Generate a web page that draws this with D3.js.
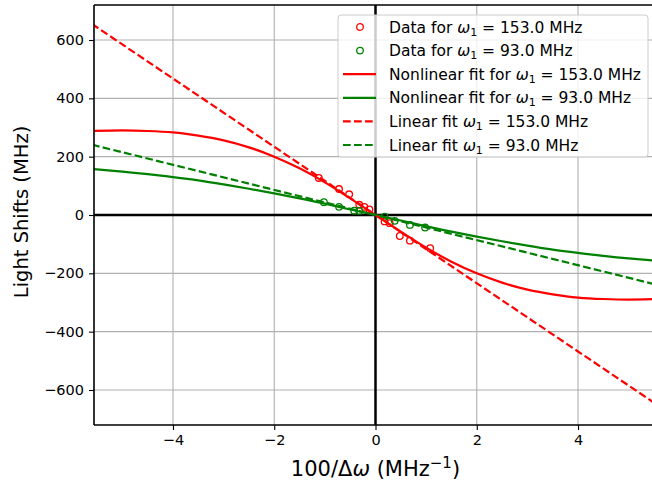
<!DOCTYPE html>
<html>
<head>
<meta charset="utf-8">
<script src="https://cdn.jsdelivr.net/npm/d3@7"></script>
<style>
  body { margin: 0; background: #fff; }
  svg { font-family: "DejaVu Sans", sans-serif; display: block; }
</style>
</head>
<body>
<script>
// measured data, omega_1 = 153 MHz (red) and 93 MHz (green)
var dataX153 = [-1.12, -0.72, -0.52, -0.32, -0.22, -0.12, 0.18, 0.28, 0.48, 0.68, 1.08];
var dataY153 = [127, 89, 71, 35, 28, 19, -22, -28, -72, -88, -114];
var dataX93  = [-1.02, -0.72, -0.42, -0.32, 0.18, 0.38, 0.68, 0.98];
var dataY93  = [44, 28, 15, 14, -6, -20, -34, -43];

// fitted curves
var fitX    = [-5.6, -5, -4.5, -4, -3.5, -3, -2.5, -2, -1.5, -1, -0.5, 0, 0.5, 1, 1.5, 2, 2.5, 3, 3.5, 4, 4.5, 5, 5.6];
var nlFit153 = [288, 290, 288, 283, 272, 256, 232, 200, 160, 112, 57, 0, -57, -112, -160, -200, -232, -256, -272, -283, -288, -290, -288];
var nlFit93  = [158, 149, 140, 130, 119, 105, 90, 74, 57, 39, 19, 0, -19, -39, -57, -74, -90, -105, -119, -130, -140, -149, -158];
var linX     = [-5.6, 5.6];
var linFit153 = [655, -655];
var linFit93  = [241, -241];

var xTicks = [-4, -2, 0, 2, 4];
var yTicks = [-600, -400, -200, 0, 200, 400, 600];

const W = 652, H = 483;
const M = { left: 94, top: 5, right: 657, bottom: 425 };

var svg = d3.select('body').append('svg')
  .attr('width', W)
  .attr('height', H);

var x = d3.scaleLinear().domain([-5.56, 5.56]).range([M.left, M.right]);
var y = d3.scaleLinear().domain([-720, 720]).range([M.bottom, M.top]);

svg.append('defs').append('clipPath').attr('id', 'plot-clip')
  .append('rect')
    .attr('x', M.left).attr('y', M.top)
    .attr('width', M.right - M.left).attr('height', M.bottom - M.top);

// grid
var grid = svg.append('g').attr('clip-path', 'url(#plot-clip)');
grid.selectAll('.gx').data(xTicks).enter().append('line')
  .attr('x1', d => x(d)).attr('x2', d => x(d))
  .attr('y1', M.top).attr('y2', M.bottom)
  .attr('stroke', '#b0b0b0').attr('stroke-width', 1.1);
grid.selectAll('.gy').data(yTicks).enter().append('line')
  .attr('x1', M.left).attr('x2', M.right)
  .attr('y1', d => y(d)).attr('y2', d => y(d))
  .attr('stroke', '#b0b0b0').attr('stroke-width', 1.1);

var plot = svg.append('g').attr('clip-path', 'url(#plot-clip)');

// zero lines
plot.append('line')
  .attr('x1', x(0)).attr('x2', x(0)).attr('y1', M.top).attr('y2', M.bottom)
  .attr('stroke', '#000').attr('stroke-width', 2.5);
plot.append('line')
  .attr('x1', M.left).attr('x2', M.right).attr('y1', y(0)).attr('y2', y(0))
  .attr('stroke', '#000').attr('stroke-width', 2.5);

var curve = d3.line()
  .x(d => x(d[0]))
  .y(d => y(d[1]))
  .curve(d3.curveNatural);

function drawLine(xs, ys, color, dashed) {
  plot.append('path')
    .datum(d3.zip(xs, ys))
    .attr('d', curve)
    .attr('fill', 'none')
    .attr('stroke', color)
    .attr('stroke-width', 2.2)
    .attr('stroke-dasharray', dashed ? '7.7,3.3' : null);
}

function drawPoints(xs, ys, color) {
  plot.append('g').selectAll('circle')
    .data(d3.zip(xs, ys))
    .enter().append('circle')
      .attr('cx', d => x(d[0]))
      .attr('cy', d => y(d[1]))
      .attr('r', 3.3)
      .attr('fill', 'none')
      .attr('stroke', color)
      .attr('stroke-width', 1.3);
}

drawPoints(dataX153, dataY153, 'red');
drawPoints(dataX93, dataY93, 'green');
drawLine(fitX, nlFit153, 'red', false);
drawLine(fitX, nlFit93, 'green', false);
drawLine(linX, linFit153, 'red', true);
drawLine(linX, linFit93, 'green', true);

// axes
var fmt = d => d3.format('d')(d).replace('-', '\u2212');
var xAxis = svg.append('g')
  .attr('transform', 'translate(0,' + M.bottom + ')')
  .call(d3.axisBottom(x).tickValues(xTicks).tickFormat(fmt).tickSizeOuter(0).tickSize(5).tickPadding(5));
var yAxis = svg.append('g')
  .attr('transform', 'translate(' + M.left + ',0)')
  .call(d3.axisLeft(y).tickValues(yTicks).tickFormat(fmt).tickSizeOuter(0).tickSize(5).tickPadding(5));
[xAxis, yAxis].forEach(function (a) {
  a.select('.domain').remove();
  a.selectAll('.tick line').attr('stroke', '#000').attr('stroke-width', 1.1);
  a.selectAll('.tick text').attr('fill', '#000').style('font-size', '14.5px')
    .style('font-family', '"DejaVu Sans", sans-serif');
});

// spines
svg.append('line').attr('x1', M.left).attr('x2', M.left).attr('y1', M.top).attr('y2', M.bottom)
  .attr('stroke', '#000').attr('stroke-width', 1.6);
svg.append('line').attr('x1', M.left).attr('x2', M.right).attr('y1', M.bottom).attr('y2', M.bottom)
  .attr('stroke', '#000').attr('stroke-width', 1.6);
svg.append('line').attr('x1', M.left).attr('x2', M.right).attr('y1', M.top).attr('y2', M.top)
  .attr('stroke', '#000').attr('stroke-width', 1.6);

// axis labels
var xl = svg.append('text')
  .attr('x', x(0)).attr('y', 476)
  .attr('text-anchor', 'middle')
  .style('font-size', '21px');
xl.append('tspan').text('100/\u0394');
xl.append('tspan').style('font-style', 'italic').text('\u03c9');
xl.append('tspan').text(' (MHz');
xl.append('tspan').attr('dy', -8).style('font-size', '15px').text('\u22121');
xl.append('tspan').attr('dy', 8).text(')');

svg.append('text')
  .attr('transform', 'translate(28,' + 212 + ') rotate(-90)')
  .attr('text-anchor', 'middle')
  .style('font-size', '19.5px')
  .text('Light Shifts (MHz)');

// legend
var legendItems = [
  { pre: 'Data for ', val: '153.0', color: 'red', type: 'point' },
  { pre: 'Data for ', val: '93.0', color: 'green', type: 'point' },
  { pre: 'Nonlinear fit for ', val: '153.0', color: 'red', type: 'solid' },
  { pre: 'Nonlinear fit for ', val: '93.0', color: 'green', type: 'solid' },
  { pre: 'Linear fit ', val: '153.0', color: 'red', type: 'dash' },
  { pre: 'Linear fit ', val: '93.0', color: 'green', type: 'dash' }
];

var legend = svg.append('g').attr('transform', 'translate(338,15)');
legend.append('rect')
  .attr('width', 310).attr('height', 142)
  .attr('rx', 3).attr('ry', 3)
  .attr('fill', '#fff').attr('fill-opacity', 0.8)
  .attr('stroke', '#cccccc').attr('stroke-width', 1);

var rows = legend.selectAll('.row').data(legendItems).enter().append('g')
  .attr('transform', (d, i) => 'translate(0,' + (12 + i * 23.6) + ')');

rows.each(function (d) {
  var g = d3.select(this);
  if (d.type === 'point') {
    g.append('circle').attr('cx', 22).attr('cy', 0).attr('r', 3.3)
      .attr('fill', 'none').attr('stroke', d.color).attr('stroke-width', 1.3);
  } else {
    g.append('line').attr('x1', 5).attr('x2', 38).attr('y1', 0).attr('y2', 0)
      .attr('stroke', d.color).attr('stroke-width', 2.2)
      .attr('stroke-dasharray', d.type === 'dash' ? '7.7,3.3' : null);
  }
  var t = g.append('text').attr('x', 51).attr('y', 5.5).style('font-size', '15.5px');
  t.append('tspan').text(d.pre);
  t.append('tspan').style('font-style', 'italic').text('\u03c9');
  t.append('tspan').attr('dy', 3).style('font-size', '11px').text('1');
  t.append('tspan').attr('dy', -3).text(' = ' + d.val + ' MHz');
});
</script>
</body>
</html>
